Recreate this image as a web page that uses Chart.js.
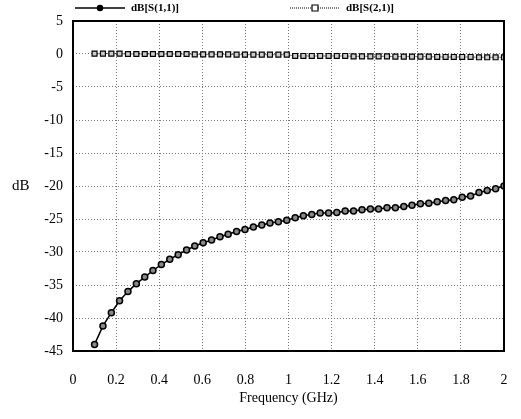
<!DOCTYPE html>
<html lang="en">
<head>
    <meta charset="UTF-8">
    <title>dB S-parameters</title>
    <script src="https://cdn.jsdelivr.net/npm/chart.js"></script>
    <style>
        body {
            margin: 0;
            padding: 0;
            background: #ffffff;
            overflow: hidden;
        }
        canvas {
            display: block;
        }
    </style>
</head>
<body>
    <canvas id="sparamChart" width="521" height="419"></canvas>

    <script>
        // Frequency points (GHz)
        const freqs = [0.100, 0.139, 0.178, 0.216, 0.255, 0.294, 0.333, 0.371, 0.410, 0.449,
                       0.488, 0.527, 0.565, 0.604, 0.643, 0.682, 0.720, 0.759, 0.798, 0.837,
                       0.876, 0.914, 0.953, 0.992, 1.031, 1.069, 1.108, 1.147, 1.186, 1.224,
                       1.263, 1.302, 1.341, 1.380, 1.418, 1.457, 1.496, 1.535, 1.573, 1.612,
                       1.651, 1.690, 1.729, 1.767, 1.806, 1.845, 1.884, 1.922, 1.961, 2.000];

        // dB[S(1,1)]
        const s11 = [-44.0, -41.2, -39.2, -37.4, -36.0, -34.8, -33.8, -32.8, -31.9, -31.1,
                     -30.4, -29.7, -29.1, -28.6, -28.2, -27.7, -27.3, -26.9, -26.6, -26.2,
                     -25.9, -25.6, -25.4, -25.2, -24.8, -24.5, -24.3, -24.1, -24.1, -24.0,
                     -23.8, -23.8, -23.6, -23.5, -23.5, -23.3, -23.3, -23.1, -22.9, -22.7,
                     -22.6, -22.4, -22.2, -22.1, -21.7, -21.5, -21.0, -20.7, -20.4, -20.0];

        // dB[S(2,1)]
        const s21 = [0.05, 0.05, 0.05, 0.05, 0.0, 0.0, 0.0, 0.0, 0.0, 0.0,
                     0.0, 0.0, -0.05, -0.05, -0.05, -0.05, -0.05, -0.1, -0.1, -0.1,
                     -0.1, -0.1, -0.1, -0.1, -0.3, -0.3, -0.3, -0.3, -0.3, -0.3,
                     -0.3, -0.35, -0.35, -0.35, -0.35, -0.35, -0.4, -0.4, -0.4, -0.4,
                     -0.4, -0.45, -0.45, -0.45, -0.45, -0.45, -0.5, -0.5, -0.5, -0.5];

        // tick labels
        const xTickLabels = ['0', '0.2', '0.4', '0.6', '0.8', '1', '1.2', '1.4', '1.6', '1.8', '2'];
        const yTickLabels = ['5', '0', '-5', '-10', '-15', '-20', '-25', '-30', '-35', '-40', '-45'];

        const seriesNames = ['dB[S(1,1)]', 'dB[S(2,1)]'];

        const serif = "'Liberation Serif', 'DejaVu Serif', serif";

        function toPoints(xs, ys) {
            return xs.map((x, i) => ({ x: x, y: ys[i] }));
        }

        // frame, horizontal "dB" title and legend
        const extrasPlugin = {
            id: 'extras',
            afterDraw(chart) {
                const ctx = chart.ctx;
                const a = chart.chartArea;
                ctx.save();
                ctx.strokeStyle = '#000';
                ctx.lineWidth = 2;
                ctx.strokeRect(a.left, a.top, a.right - a.left, a.bottom - a.top);

                ctx.fillStyle = '#000';
                ctx.font = '15px ' + serif;
                ctx.textAlign = 'left';
                ctx.textBaseline = 'middle';
                ctx.fillText('dB', 12, (a.top + a.bottom) / 2);

                // legend
                const items = [{ x0: 75, x1: 125 }, { x0: 290, x1: 340 }];
                chart.data.datasets.forEach((ds, i) => {
                    const it = items[i];
                    const y = 8;
                    ctx.beginPath();
                    ctx.setLineDash(ds.borderDash || []);
                    ctx.lineWidth = ds.borderWidth;
                    ctx.strokeStyle = ds.borderColor;
                    ctx.moveTo(it.x0, y);
                    ctx.lineTo(it.x1, y);
                    ctx.stroke();
                    ctx.setLineDash([]);
                    const mx = (it.x0 + it.x1) / 2;
                    ctx.lineWidth = ds.pointBorderWidth;
                    ctx.strokeStyle = ds.pointBorderColor;
                    ctx.fillStyle = ds.legendFill;
                    ctx.beginPath();
                    if (ds.pointStyle === 'rect') {
                        ctx.rect(mx - 3, y - 3, 6, 6);
                    } else {
                        ctx.arc(mx, y, 2.5, 0, Math.PI * 2);
                    }
                    ctx.fill();
                    ctx.stroke();
                    ctx.fillStyle = '#000';
                    ctx.font = 'bold 11px ' + serif;
                    ctx.textBaseline = 'middle';
                    ctx.fillText(ds.label, it.x1 + 6, y);
                });
                ctx.restore();
            }
        };

        const ctx = document.getElementById('sparamChart').getContext('2d');
        const sparamChart = new Chart(ctx, {
            type: 'line',
            data: {
                datasets: [{
                    label: seriesNames[0],
                    data: toPoints(freqs, s11),
                    borderColor: '#000',
                    borderWidth: 1.5,
                    pointStyle: 'circle',
                    pointRadius: 3,
                    pointBorderWidth: 1.5,
                    pointBorderColor: '#000',
                    pointBackgroundColor: '#888',
                    legendFill: '#000',
                    tension: 0
                }, {
                    label: seriesNames[1],
                    data: toPoints(freqs, s21),
                    borderColor: '#000',
                    borderWidth: 1,
                    borderDash: [1, 1],
                    pointStyle: 'rect',
                    pointRadius: 3.5,
                    pointBorderWidth: 1.2,
                    pointBorderColor: '#000',
                    pointBackgroundColor: '#ccc',
                    legendFill: '#fff',
                    tension: 0
                }]
            },
            options: {
                responsive: false,
                animation: false,
                devicePixelRatio: 1,
                layout: {
                    padding: { top: 21, right: 17, bottom: 0, left: 0 }
                },
                plugins: {
                    legend: { display: false },
                    tooltip: { enabled: false }
                },
                scales: {
                    x: {
                        type: 'linear',
                        min: 0,
                        max: 2,
                        afterBuildTicks(scale) {
                            scale.ticks = xTickLabels.map(t => ({ value: parseFloat(t) }));
                        },
                        afterFit(scale) { scale.height = 68; },
                        ticks: {
                            color: '#000',
                            padding: 2,
                            font: { family: serif, size: 14 },
                            callback: (v, i) => xTickLabels[i]
                        },
                        grid: {
                            color: '#777',
                            drawTicks: true,
                            tickLength: 19,
                            tickColor: 'rgba(0,0,0,0)'
                        },
                        border: { display: false, dash: [1, 2] },
                        title: {
                            display: true,
                            text: 'Frequency (GHz)',
                            color: '#000',
                            font: { family: serif, size: 14 },
                            padding: { top: 0, bottom: 12 }
                        }
                    },
                    y: {
                        min: -45,
                        max: 5,
                        afterBuildTicks(scale) {
                            scale.ticks = yTickLabels.map(t => ({ value: parseFloat(t) }));
                        },
                        afterFit(scale) { scale.width = 73; },
                        ticks: {
                            color: '#000',
                            padding: 10,
                            font: { family: serif, size: 14 },
                            callback: (v, i) => yTickLabels[i]
                        },
                        grid: {
                            color: '#777',
                            drawTicks: false
                        },
                        border: { display: false, dash: [1, 2] }
                    }
                }
            },
            plugins: [extrasPlugin]
        });
    </script>
</body>
</html>
